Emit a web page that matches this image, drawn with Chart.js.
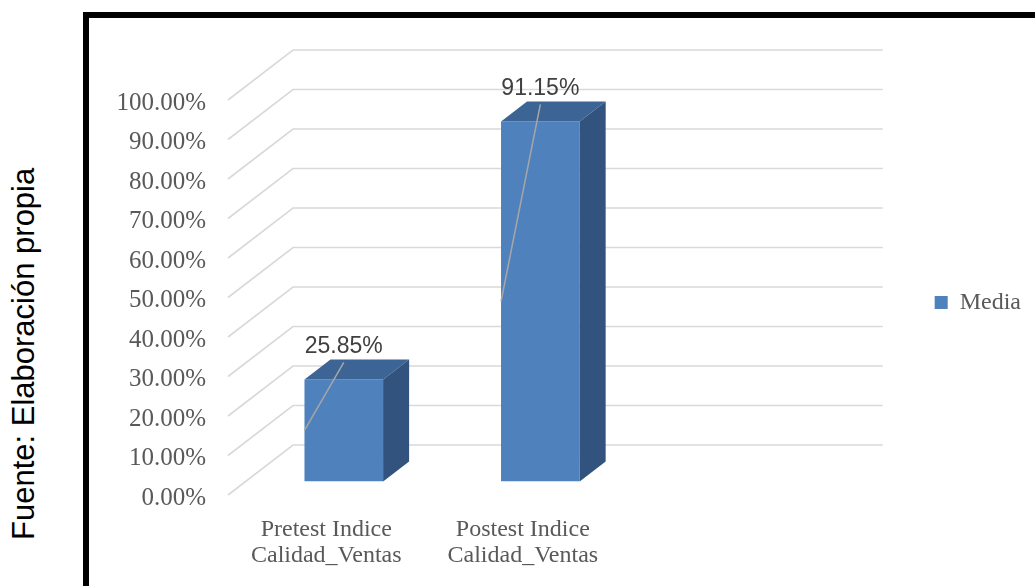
<!DOCTYPE html>
<html>
<head>
<meta charset="utf-8">
<script src="https://cdn.jsdelivr.net/npm/chart.js@4.4.1/dist/chart.umd.min.js"></script>
<style>
  html, body { margin: 0; padding: 0; background: #fff; }
  body { width: 1035px; height: 586px; position: relative; overflow: hidden; }
  #frame {
    position: absolute; left: 83px; top: 12px; width: 1100px; height: 700px;
    border-left: 6px solid #000; border-top: 6px solid #000;
  }
  #fuente {
    position: absolute; left: 8px; top: 540px;
    transform-origin: 0 0; transform: rotate(-90deg);
    font: 31px "Liberation Sans", Arial, sans-serif; line-height: 1;
    white-space: nowrap; color: #000;
  }
  #chart { position: absolute; left: 0; top: 0; }
</style>
</head>
<body>
<div id="frame"></div>
<div id="fuente">Fuente: Elaboración propia</div>
<canvas id="chart" width="1035" height="586"></canvas>
<script>
// datos
const categories = [
  ["Pretest Indice", "Calidad_Ventas"],
  ["Postest Indice", "Calidad_Ventas"],
];
const media = [25.85, 91.15];
const seriesName = "Media";
const yMax = 100;
const yStep = 10;

// geometria 3D
const WALL_DX = 65, WALL_DY = -50;   // profundidad de la pared del fondo
const BAR_OX = 17.5, BAR_OY = -13.5; // cara frontal de la barra dentro de la caja
const BAR_DX = 26, BAR_DY = -20;     // fondo de la barra

const serif = "'Liberation Serif', 'Times New Roman', serif";
const sans = "'Liberation Sans', Arial, sans-serif";

function poly(ctx, pts) {
  ctx.beginPath();
  ctx.moveTo(pts[0][0], pts[0][1]);
  for (let i = 1; i < pts.length; i++) ctx.lineTo(pts[i][0], pts[i][1]);
  ctx.closePath();
  ctx.fill();
}

const box3d = {
  id: "box3d",
  // bajar un poco la leyenda
  afterLayout(chart) {
    chart.legend.top += 5;
    chart.legend.bottom += 5;
  },
  // lineas de la pared lateral y del fondo
  beforeDatasetsDraw(chart) {
    const { ctx, chartArea: a, scales: { y } } = chart;
    ctx.save();
    ctx.strokeStyle = "#d9d9d9";
    ctx.lineWidth = 1.6;
    y.ticks.forEach((t) => {
      const py = y.getPixelForValue(t.value);
      ctx.beginPath();
      ctx.moveTo(a.left, py);
      ctx.lineTo(a.left + WALL_DX, py + WALL_DY);
      ctx.lineTo(a.right + WALL_DX, py + WALL_DY);
      ctx.stroke();
    });
    ctx.restore();
  },
  // la cara frontal la dibuja Chart.js, desplazada hacia dentro
  beforeDatasetDraw(chart) {
    chart.ctx.save();
    chart.ctx.translate(BAR_OX, BAR_OY);
  },
  afterDatasetDraw(chart, args) {
    const ctx = chart.ctx;
    ctx.restore();
    ctx.save();
    media.forEach((v, i) => {
      const bar = args.meta.data[i];
      const { x, y, base, width } = bar.getProps(["x", "y", "base", "width"], true);
      const x1 = x - width / 2 + BAR_OX;
      const x2 = x + width / 2 + BAR_OX;
      const top = y + BAR_OY;
      const bot = base + BAR_OY;
      // tapa
      ctx.fillStyle = "#3c6494";
      poly(ctx, [[x1, top], [x1 + BAR_DX, top + BAR_DY], [x2 + BAR_DX, top + BAR_DY], [x2, top]]);
      // lateral
      ctx.fillStyle = "#31537e";
      poly(ctx, [[x2, top], [x2 + BAR_DX, top + BAR_DY], [x2 + BAR_DX, bot + BAR_DY], [x2, bot]]);
    });
    ctx.restore();
  },
  // etiquetas de datos con linea guia
  afterDatasetsDraw(chart) {
    const ctx = chart.ctx;
    const meta = chart.getDatasetMeta(0);
    ctx.save();
    media.forEach((v, i) => {
      const bar = meta.data[i];
      const { x, y, base, width } = bar.getProps(["x", "y", "base", "width"], true);
      const cx = x + BAR_OX;
      const x1 = x - width / 2 + BAR_OX;
      const top = y + BAR_OY;
      const bot = base + BAR_OY;
      const ly = top - 34;
      ctx.strokeStyle = "#a6a6a6";
      ctx.lineWidth = 1.5;
      ctx.beginPath();
      ctx.moveTo(cx, ly + 17);
      ctx.lineTo(x1, (top + bot) / 2);
      ctx.stroke();
      ctx.fillStyle = "#404040";
      ctx.font = "23px " + sans;
      ctx.textAlign = "center";
      ctx.textBaseline = "middle";
      ctx.fillText(v.toFixed(2) + "%", cx, ly + 1);
    });
    ctx.restore();
  },
};

const ctx = document.getElementById("chart").getContext("2d");
const chart = new Chart(ctx, {
  type: "bar",
  data: {
    labels: [...categories, ""], // tercera columna vacia
    datasets: [
      {
        label: seriesName,
        data: [...media, null],
        backgroundColor: "#4f81bd",
        borderWidth: 0,
        categoryPercentage: 0.4,
        barPercentage: 1,
      },
    ],
  },
  options: {
    responsive: false,
    animation: false,
    devicePixelRatio: 1,
    layout: { padding: { left: 0, top: 100, right: 4, bottom: 0 } },
    scales: {
      x: {
        grid: { display: false, drawTicks: false },
        border: { display: false },
        ticks: {
          color: "#595959",
          font: { family: serif, size: 24, lineHeight: "26px" },
          padding: 22,
          maxRotation: 0,
          autoSkip: false,
        },
        afterFit: (s) => { s.height = 91; },
      },
      y: {
        min: 0,
        max: yMax,
        grid: { display: false, drawTicks: false },
        border: { display: false },
        ticks: {
          stepSize: yStep,
          color: "#595959",
          font: { family: serif, size: 25 },
          padding: 22,
          labelOffset: 3,
          callback: (v) => v.toFixed(2) + "%",
        },
        afterFit: (s) => { s.width = 228; },
      },
    },
    plugins: {
      tooltip: { enabled: false },
      legend: {
        position: "right",
        fullSize: false,
        labels: {
          boxWidth: 13,
          boxHeight: 13,
          padding: 117,
          color: "#595959",
          font: { family: serif, size: 24 },
        },
      },
    },
  },
  plugins: [box3d],
});
</script>
</body>
</html>
